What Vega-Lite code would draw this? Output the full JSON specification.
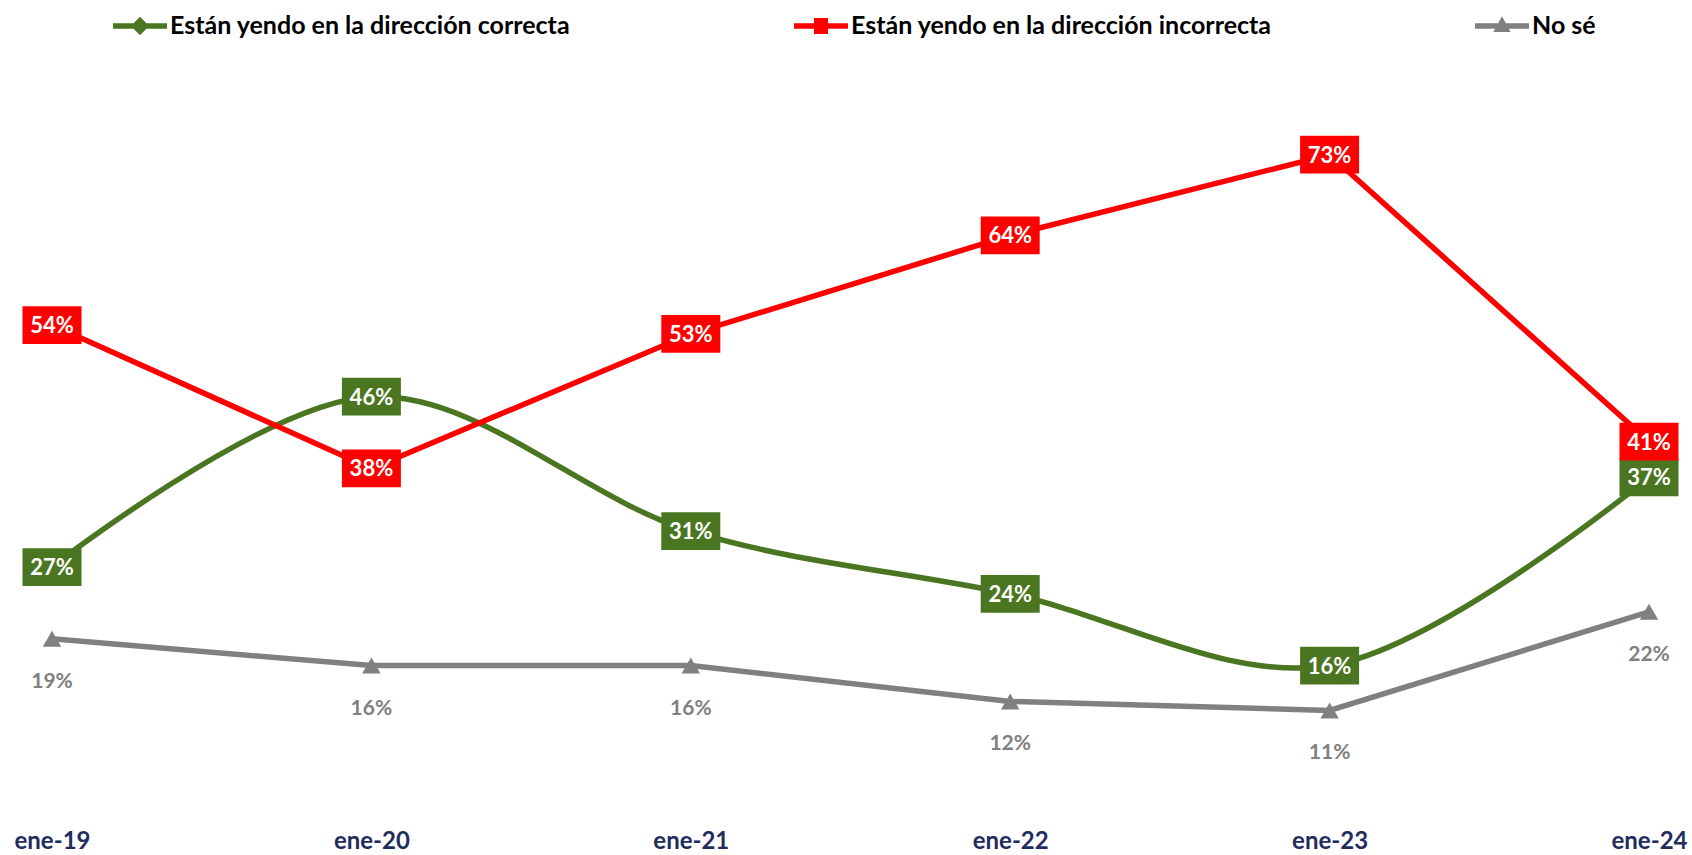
{
  "$schema": "https://vega.github.io/schema/vega-lite/v6.json",
  "width": 1597,
  "height": 717,
  "autosize": {"type": "none"},
  "padding": {"left": 52, "right": 43, "top": 92, "bottom": 46},
  "background": "white",
  "config": {
    "view": {"stroke": null},
    "font": "Lato"
  },
  "data": {
    "values": [
      {"fecha": "ene-19", "serie": "Están yendo en la dirección correcta", "valor": 27},
      {"fecha": "ene-20", "serie": "Están yendo en la dirección correcta", "valor": 46},
      {"fecha": "ene-21", "serie": "Están yendo en la dirección correcta", "valor": 31},
      {"fecha": "ene-22", "serie": "Están yendo en la dirección correcta", "valor": 24},
      {"fecha": "ene-23", "serie": "Están yendo en la dirección correcta", "valor": 16},
      {"fecha": "ene-24", "serie": "Están yendo en la dirección correcta", "valor": 37},
      {"fecha": "ene-19", "serie": "Están yendo en la dirección incorrecta", "valor": 54},
      {"fecha": "ene-20", "serie": "Están yendo en la dirección incorrecta", "valor": 38},
      {"fecha": "ene-21", "serie": "Están yendo en la dirección incorrecta", "valor": 53},
      {"fecha": "ene-22", "serie": "Están yendo en la dirección incorrecta", "valor": 64},
      {"fecha": "ene-23", "serie": "Están yendo en la dirección incorrecta", "valor": 73},
      {"fecha": "ene-24", "serie": "Están yendo en la dirección incorrecta", "valor": 41},
      {"fecha": "ene-19", "serie": "No sé", "valor": 19},
      {"fecha": "ene-20", "serie": "No sé", "valor": 16},
      {"fecha": "ene-21", "serie": "No sé", "valor": 16},
      {"fecha": "ene-22", "serie": "No sé", "valor": 12},
      {"fecha": "ene-23", "serie": "No sé", "valor": 11},
      {"fecha": "ene-24", "serie": "No sé", "valor": 22}
    ]
  },
  "transform": [{"calculate": "datum.valor + '%'", "as": "etiqueta"}],
  "encoding": {
    "x": {
      "field": "fecha", "type": "ordinal", "sort": null,
      "scale": {"type": "point", "padding": 0},
      "axis": {
        "title": null, "domain": false, "ticks": false, "grid": false,
        "labelAngle": 0, "labelFont": "Lato", "labelFontSize": 24, "labelFontWeight": "bold",
        "labelColor": "#1F2D5E", "labelPadding": 20
      }
    },
    "y": {
      "field": "valor", "type": "quantitative",
      "scale": {"domain": [0, 80], "nice": false, "zero": true},
      "axis": null
    }
  },
  "layer": [
    {
      "transform": [{"filter": "datum.serie === 'Están yendo en la dirección correcta'"}],
      "mark": {"type": "line", "interpolate": "catmull-rom", "strokeWidth": 5.5},
      "encoding": {
        "color": {
          "field": "serie", "type": "nominal",
          "scale": {
            "domain": ["Están yendo en la dirección correcta", "Están yendo en la dirección incorrecta", "No sé"],
            "range": ["#4B7621", "#FF0000", "#808080"]
          },
          "legend": {
            "title": null,
            "orient": "none",
            "direction": "horizontal",
            "columns": 3,
            "legendX": 61,
            "legendY": -93,
            "gridAlign": "all",
            "columnPadding": 203,
            "symbolSize": 2916,
            "symbolStrokeWidth": 0,
            "labelOffset": 3,
            "labelFont": "Lato",
            "labelFontSize": 25,
            "labelFontWeight": "bold",
            "labelColor": "#000000",
            "labelLimit": 700,
            "encode": {
              "symbols": {
                "update": {
                  "shape": {"signal": "datum.value === 'No sé' ? 'M-1,-0.1H1V0.1H-1Z M0,-0.36L0.32,0.22H-0.32Z' : (datum.value === 'Están yendo en la dirección incorrecta' ? 'M-1,-0.1H1V0.1H-1Z M-0.26,-0.3H0.26V0.3H-0.26Z' : 'M-1,-0.1H1V0.1H-1Z M0,-0.34L0.34,0L0,0.34L-0.34,0Z')"},
                  "fill": {"signal": "scale('color', datum.value)"},
                  "fillOpacity": {"value": 1},
                  "strokeWidth": {"value": 0}
                }
              }
            }
          }
        }
      }
    },
    {
      "transform": [{"filter": "datum.serie !== 'Están yendo en la dirección correcta'"}],
      "mark": {"type": "line", "interpolate": "linear", "strokeWidth": 5.5},
      "encoding": {
        "color": {"field": "serie", "type": "nominal"}
      }
    },
    {
      "transform": [{"filter": "datum.serie === 'No sé'"}],
      "mark": {"type": "point", "shape": "triangle-up", "filled": true, "size": 340, "opacity": 1, "color": "#808080"},
      "encoding": {}
    },
    {
      "transform": [{"filter": "datum.serie !== 'No sé'"}],
      "mark": {"type": "point", "shape": "M-1,-0.64H1V0.64H-1Z", "filled": true, "size": 3481, "opacity": 1},
      "encoding": {
        "color": {"field": "serie", "type": "nominal"}
      }
    },
    {
      "transform": [{"filter": "datum.serie !== 'No sé'"}],
      "mark": {"type": "text", "font": "Lato", "fontSize": 22, "fontWeight": "bold", "color": "#FFFFFF", "baseline": "middle", "align": "center", "dy": 1},
      "encoding": {
        "text": {"field": "etiqueta", "type": "nominal"}
      }
    },
    {
      "transform": [{"filter": "datum.serie === 'No sé'"}],
      "mark": {"type": "text", "font": "Lato", "fontSize": 21, "fontWeight": "bold", "color": "#7F7F7F", "baseline": "middle", "align": "center", "dy": 43},
      "encoding": {
        "text": {"field": "etiqueta", "type": "nominal"}
      }
    }
  ]
}
